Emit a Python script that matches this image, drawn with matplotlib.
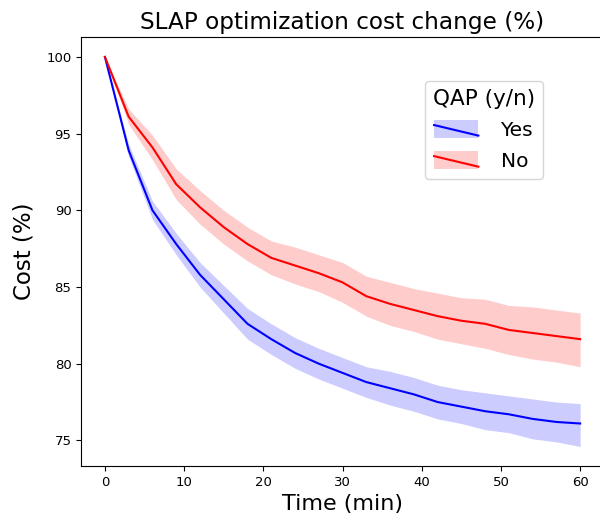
import matplotlib
matplotlib.use('Agg')
import matplotlib.pyplot as plt
from matplotlib.legend_handler import HandlerBase
from matplotlib.patches import Rectangle
from matplotlib.lines import Line2D

# 时间点 (min)
minutes = [0, 3, 6, 9, 12, 15, 18, 21, 24, 27, 30, 33, 36, 39, 42, 45, 48, 51, 54, 57, 60]

# QAP = Yes
yes_mean = [100, 93.9, 90.0, 87.8, 85.8, 84.2, 82.6, 81.6, 80.7, 80.0, 79.4,
            78.8, 78.4, 78.0, 77.5, 77.2, 76.9, 76.7, 76.4, 76.2, 76.1]
yes_hi = [100, 94.3, 90.6, 88.5, 86.6, 85.1, 83.6, 82.6, 81.7, 81.0, 80.4,
          79.8, 79.5, 79.1, 78.6, 78.3, 78.1, 77.9, 77.7, 77.5, 77.4]
yes_lo = [100, 93.5, 89.4, 87.1, 85.0, 83.3, 81.6, 80.6, 79.7, 79.0, 78.4,
          77.8, 77.3, 76.9, 76.4, 76.1, 75.7, 75.5, 75.1, 74.9, 74.6]

# QAP = No
no_mean = [100, 96.1, 94.1, 91.7, 90.2, 88.9, 87.8, 86.9, 86.4, 85.9, 85.3,
           84.4, 83.9, 83.5, 83.1, 82.8, 82.6, 82.2, 82.0, 81.8, 81.6]
no_hi = [100, 96.6, 94.9, 92.7, 91.3, 90.0, 88.9, 88.0, 87.6, 87.1, 86.6,
         85.7, 85.3, 84.9, 84.6, 84.3, 84.2, 83.8, 83.7, 83.5, 83.3]
no_lo = [100, 95.6, 93.3, 90.7, 89.1, 87.8, 86.7, 85.8, 85.2, 84.7, 84.0,
         83.1, 82.5, 82.1, 81.6, 81.3, 81.0, 80.6, 80.3, 80.1, 79.8]


class BandLineHandler(HandlerBase):
    """图例: 半透明色块 + 斜线"""
    def __init__(self, color):
        super().__init__()
        self.color = color

    def create_artists(self, legend, orig_handle, xdescent, ydescent,
                       width, height, fontsize, trans):
        rect = Rectangle((-xdescent, -ydescent - height * 0.1), width, height * 1.25,
                         facecolor=self.color, alpha=0.2, edgecolor='none',
                         transform=trans)
        line = Line2D([-xdescent, -xdescent + width],
                      [-ydescent + height * 0.8, -ydescent + height * 0.05],
                      color=self.color, lw=1.5, transform=trans)
        return [rect, line]


fig = plt.figure(figsize=(6, 5.21), dpi=100)
ax = fig.add_axes([0.1353, 0.1056, 0.8712, 0.8234])

ax.fill_between(minutes, yes_lo, yes_hi, color='blue', alpha=0.2, linewidth=0)
ax.plot(minutes, yes_mean, color='blue', lw=1.5)
ax.fill_between(minutes, no_lo, no_hi, color='red', alpha=0.2, linewidth=0)
ax.plot(minutes, no_mean, color='red', lw=1.5)

ax.set_xlim(-3, 63)
ax.set_ylim(73.33, 101.3)
ax.set_xticks([0, 10, 20, 30, 40, 50, 60])
ax.set_yticks([75, 80, 85, 90, 95, 100])
ax.tick_params(labelsize=9.5)
ax.spines['right'].set_visible(False)

ax.set_title('SLAP optimization cost change (%)', fontsize=16.7)
ax.set_xlabel('Time (min)', fontsize=16)
ax.set_ylabel('Cost (%)', fontsize=16.5, labelpad=8)

h_yes = Rectangle((0, 0), 1, 1)
h_no = Rectangle((0, 0), 1, 1)
ax.legend([h_yes, h_no], ['Yes', 'No'], title='QAP (y/n)',
          handler_map={h_yes: BandLineHandler('blue'), h_no: BandLineHandler('red')},
          loc='upper right', bbox_to_anchor=(0.883, 0.897), borderaxespad=0,
          fontsize=14.5, title_fontsize=15.5, handlelength=2.2,
          handletextpad=1.1, labelspacing=0.6)

fig.savefig('out.png', dpi=100)
